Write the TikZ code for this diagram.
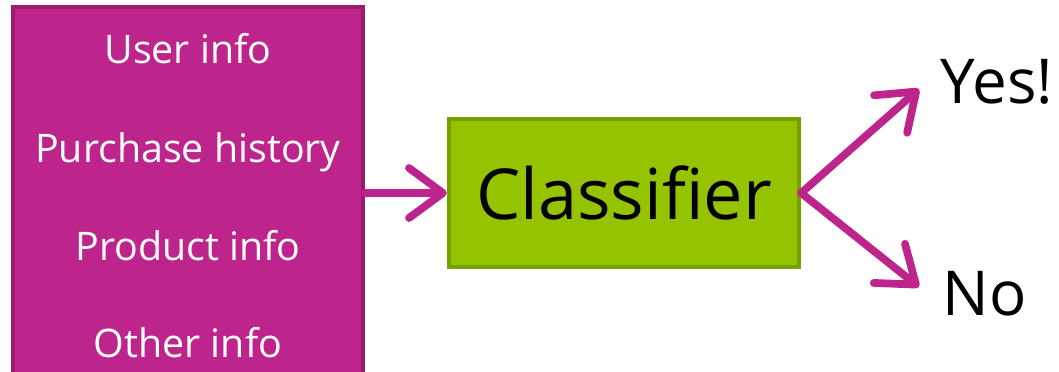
\documentclass[tikz,border=0pt]{standalone}
\usepackage{fontspec}
\setmainfont{Open Sans}
\usepackage{tikz}
\usetikzlibrary{arrows.meta,positioning}
\definecolor{boxMag}{HTML}{BE258C}
\definecolor{boxMagDark}{HTML}{9A1C70}
\definecolor{boxGreen}{HTML}{96C300}
\definecolor{boxGreenDark}{HTML}{74A000}

\begin{document}
\begin{tikzpicture}[x=0.025cm,y=-0.025cm,
  inbox/.style={draw=boxMagDark, fill=boxMag, line width=3pt, minimum width=8.75cm, minimum height=9.3cm, inner sep=0pt},
  inlabel/.style={text=white, anchor=base, font=\fontsize{28}{34}\selectfont},
  clsbox/.style={draw=boxGreenDark, fill=boxGreen, line width=3pt, minimum width=8.75cm, minimum height=3.7cm, font=\fontsize{50}{60}\selectfont},
  outlabel/.style={anchor=base west, font=\fontsize{44}{52}\selectfont},
  flow/.style={draw=boxMag, line width=5.5pt, line cap=round,
    -{Straight Barb[length=0.85cm,width=1.25cm,line cap=round,line join=round]}}]
\useasboundingbox (0,0) rectangle (1059,371);
\begin{scope}
\clip (0,0) rectangle (1059,371);
% feature box (runs off the bottom)
\node[inbox] (inputs) at (188,193) {};
\end{scope}
\node[inlabel] (user)     at (188,63)  {User info};
\node[inlabel] (purchase) at (188,162) {Purchase history};
\node[inlabel] (product)  at (188,260) {Product info};
\node[inlabel] (other)    at (188,357) {Other info};
% model
\node[clsbox] (clf) at (624,193) {Classifier};
% outputs
\node[outlabel] (yes) at (936,103) {Yes!};
\node[outlabel] (no)  at (938,315) {No};
\coordinate (yestip) at (919,89);
\coordinate (notip)  at (919,287);
\draw[flow] (inputs.east) -- (clf.west);
\draw[flow] (clf.east) -- (yestip);
\draw[flow] (clf.east) -- (notip);
\end{tikzpicture}
\end{document}
